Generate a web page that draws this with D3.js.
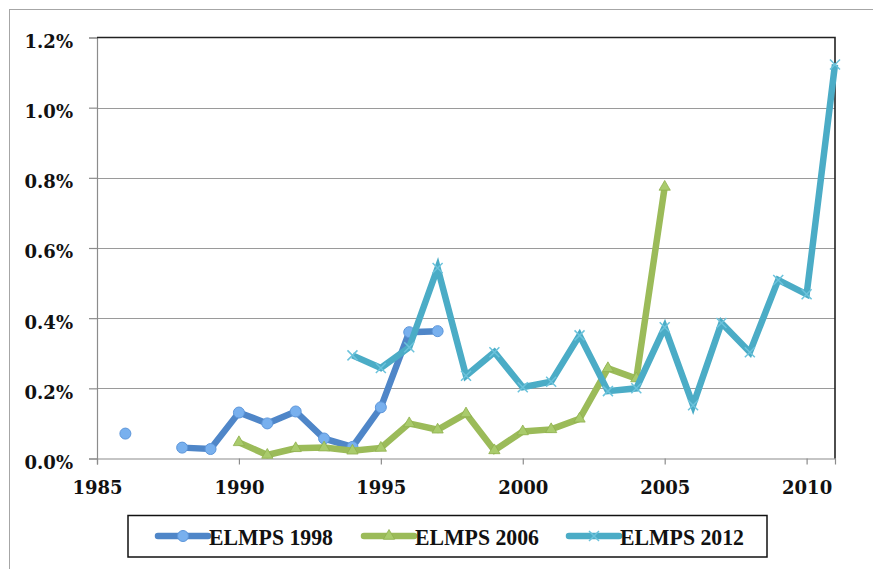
<!DOCTYPE html>
<html>
<head>
<meta charset="utf-8">
<script src="https://cdn.jsdelivr.net/npm/d3@7"></script>
<style>
  html, body { margin: 0; padding: 0; background: #fff; }
  svg { display: block; }
</style>
</head>
<body>
<svg id="chart" width="873" height="569"></svg>
<script>
const years = [1986, 1987, 1988, 1989, 1990, 1991, 1992, 1993, 1994, 1995, 1996, 1997, 1998, 1999, 2000, 2001, 2002, 2003, 2004, 2005, 2006, 2007, 2008, 2009, 2010, 2011];
const elmps1998 = [0.071, null, 0.031, 0.027, 0.131, 0.100, 0.134, 0.057, 0.033, 0.146, 0.360, 0.363, null, null, null, null, null, null, null, null, null, null, null, null, null, null];
const elmps2006 = [null, null, null, null, 0.046, 0.010, 0.029, 0.031, 0.022, 0.030, 0.100, 0.082, 0.128, 0.023, 0.077, 0.083, 0.113, 0.257, 0.228, 0.774, null, null, null, null, null, null];
const elmps2012 = [null, null, null, null, null, null, null, null, 0.294, 0.258, 0.317, 0.543, 0.236, 0.303, 0.203, 0.219, 0.351, 0.192, 0.200, 0.374, 0.152, 0.386, 0.303, 0.509, 0.468, 1.123];
const seriesNames = ["ELMPS 1998", "ELMPS 2006", "ELMPS 2012"];
const xTicks = [1985, 1990, 1995, 2000, 2005, 2010];
const yTicks = [0, 0.2, 0.4, 0.6, 0.8, 1.0, 1.2];

const colors = ["#4f86c8", "#9bbb59", "#4bacc6"];
const markerFill = ["#78b0ee", "#a9cb6c", "#4bacc6"];
const markerTypes = ["circle", "triangle", "x"];

const svg = d3.select("#chart");

// outer frame
svg.append("rect").attr("x", 9.5).attr("y", 9.5).attr("width", 880).attr("height", 580)
  .attr("fill", "none").attr("stroke", "#a6a6a6").attr("stroke-width", 1);

const x = d3.scaleLinear().domain([1985, 2011]).range([97, 835]);
const y = d3.scaleLinear().domain([0, 1.2]).range([458.5, 37.5]);

// gridlines
svg.append("g").selectAll("line").data(yTicks.slice(1, -1)).join("line")
  .attr("x1", x(1985)).attr("x2", x(2011))
  .attr("y1", d => Math.round(y(d)) + 0.5).attr("y2", d => Math.round(y(d)) + 0.5)
  .attr("stroke", "#9a9a9a").attr("stroke-width", 1.2);

// y axis
const yAxis = d3.axisLeft(y).tickValues(yTicks).tickFormat(d => d.toFixed(1) + "%").tickSize(8).tickPadding(16);
const gy = svg.append("g").attr("transform", `translate(${x(1985)},0)`).call(yAxis);
gy.select(".domain").attr("stroke", "#8c8c8c").attr("stroke-width", 1.2);
gy.selectAll(".tick line").attr("stroke", "#8c8c8c").attr("stroke-width", 1.2);
gy.selectAll(".tick text")
  .attr("font-family", "'DejaVu Serif', serif").attr("font-weight", "bold")
  .attr("font-size", 18).attr("fill", "#111").attr("dy", "0.55em");

// x axis
const xAxis = d3.axisBottom(x).tickValues(xTicks).tickFormat(d3.format("d")).tickSize(6).tickPadding(17);
const gx = svg.append("g").attr("transform", `translate(0,${y(0)})`).call(xAxis);
gx.select(".domain").attr("stroke", "#8c8c8c").attr("stroke-width", 1.2);
gx.selectAll(".tick line").attr("stroke", "#8c8c8c").attr("stroke-width", 1.2);
gx.selectAll(".tick text")
  .attr("font-family", "'DejaVu Serif', serif").attr("font-weight", "bold")
  .attr("font-size", 18).attr("fill", "#111");

// top and right frame
svg.append("path")
  .attr("d", `M${x(1985)},${y(1.2)}H${x(2011)}V${y(0)}`)
  .attr("fill", "none").attr("stroke", "#222").attr("stroke-width", 1.6);

const allSeries = [elmps1998, elmps2006, elmps2012];

const line = d3.line()
  .defined(d => d.v !== null)
  .x(d => x(d.year)).y(d => y(d.v));

function drawMarker(g, type, i, cx, cy) {
  if (type === "circle") {
    g.append("circle").attr("cx", cx).attr("cy", cy).attr("r", 5.5)
      .attr("fill", markerFill[i]).attr("stroke", "#5d96da").attr("stroke-width", 1);
  } else if (type === "triangle") {
    g.append("path").attr("transform", `translate(${cx},${cy})`)
      .attr("d", d3.symbol().type(d3.symbolTriangle).size(55)())
      .attr("fill", markerFill[i]).attr("stroke", "#8fb04e").attr("stroke-width", 0.8);
  } else {
    g.append("path").attr("transform", `translate(${cx},${cy})`)
      .attr("d", "M-5,-5L5,5M-5,5L5,-5")
      .attr("stroke", "#6cc3dc").attr("stroke-width", 1.5).attr("fill", "none");
  }
}

allSeries.forEach((vals, i) => {
  const data = years.map((yr, k) => ({ year: yr, v: vals[k] }));
  const g = svg.append("g");
  g.append("path").datum(data).attr("d", line)
    .attr("fill", "none").attr("stroke", colors[i]).attr("stroke-width", 6.5)
    .attr("stroke-linejoin", "miter").attr("stroke-linecap", "butt");
  data.filter(d => d.v !== null).forEach(d => drawMarker(g, markerTypes[i], i, x(d.year), y(d.v)));
});

// legend
svg.append("rect").attr("x", 128).attr("y", 515.5).attr("width", 639).attr("height", 41.5)
  .attr("fill", "#fff").attr("stroke", "#111").attr("stroke-width", 1.5);
const legendX = [158, 364, 569];
seriesNames.forEach((name, i) => {
  const g = svg.append("g");
  const lx = legendX[i];
  g.append("line").attr("x1", lx).attr("x2", lx + 50).attr("y1", 536).attr("y2", 536)
    .attr("stroke", colors[i]).attr("stroke-width", 6.5).attr("stroke-linecap", "round");
  drawMarker(g, markerTypes[i], i, lx + 25, 536);
  g.append("text").attr("x", lx + 51).attr("y", 545)
    .attr("font-family", "'Liberation Serif', serif").attr("font-weight", "bold")
    .attr("font-size", 23).attr("fill", "#111")
    .attr("textLength", 124).attr("lengthAdjust", "spacingAndGlyphs")
    .text(name);
});
</script>
</body>
</html>
